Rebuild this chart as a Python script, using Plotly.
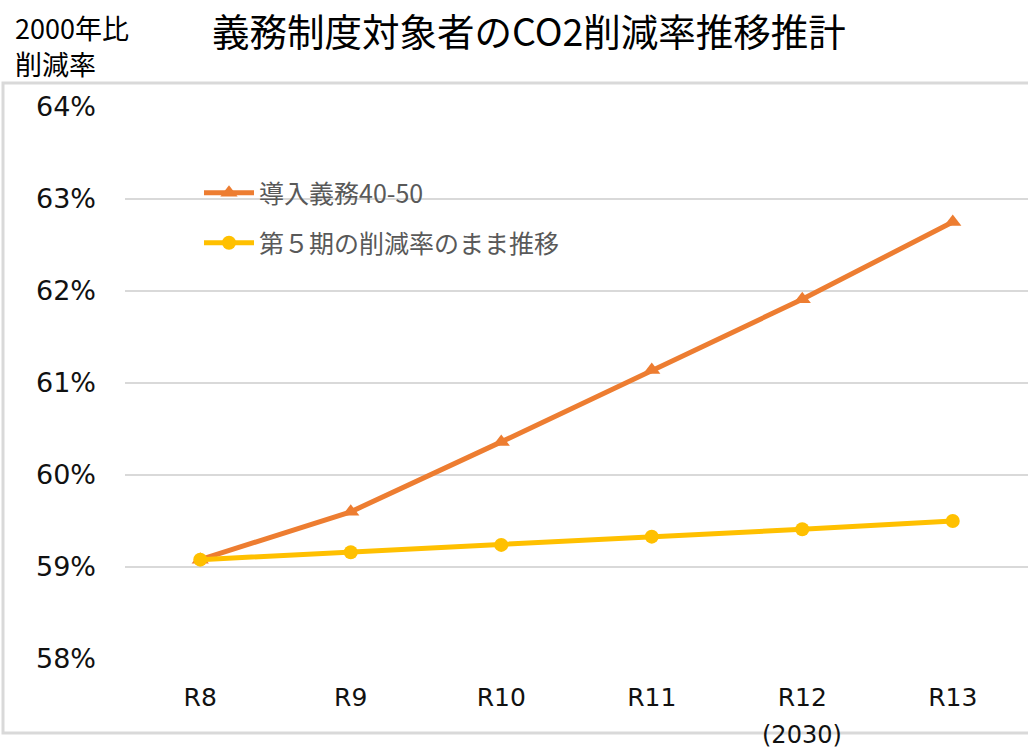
import plotly.graph_objects as go

# Fiscal-year categories (Reiwa years)
categories = ["R8", "R9", "R10", "R11", "R12", "R13"]
tick_labels = ["R8", "R9", "R10", "R11", "R12", "R13"]
year_note = "(2030)"
year_note_category = "R12"

# CO2 reduction rate vs. 2000 (%)
mandate_40_50 = [59.08, 59.60, 60.36, 61.14, 61.91, 62.75]
keep_phase5 = [59.08, 59.16, 59.24, 59.33, 59.41, 59.50]

series_names = ["導入義務40-50", "第５期の削減率のまま推移"]

W, H = 1028, 751
L, R, T, B = 125, 0, 107, 92
PW, PH = W - L - R, H - T - B


def px_x(x):
    return (x - L) / PW


def px_y(y):
    return (H - B - y) / PH


JP = "Noto Sans CJK JP, sans-serif"
NUM = "DejaVu Sans, Verdana, sans-serif"

fig = go.Figure()
fig.add_trace(go.Scatter(
    x=categories, y=mandate_40_50, name=series_names[0], mode="lines+markers",
    line=dict(color="#ED7D31", width=5),
    marker=dict(symbol="triangle-up", size=15, color="#ED7D31"),
    legend="legend",
))
fig.add_trace(go.Scatter(
    x=categories, y=keep_phase5, name=series_names[1], mode="lines+markers",
    line=dict(color="#FFC000", width=5),
    marker=dict(symbol="circle", size=14, color="#FFC000"),
    legend="legend2",
))

legend_style = dict(
    xanchor="left", yanchor="middle", bgcolor="rgba(0,0,0,0)",
    font=dict(family=JP, size=25, color="#595959"), itemwidth=50,
)

fig.update_layout(
    width=W, height=H,
    margin=dict(l=L, r=R, t=T, b=B),
    paper_bgcolor="white", plot_bgcolor="white",
    showlegend=True,
    legend=dict(x=px_x(199), y=px_y(193), **legend_style),
    legend2=dict(x=px_x(199), y=px_y(243), **legend_style),
    xaxis=dict(
        type="category", range=[-0.5, len(categories) - 0.5],
        tickmode="array", tickvals=categories, ticktext=tick_labels,
        showgrid=False, zeroline=False, showline=False, ticks="",
        tickfont=dict(family=NUM, size=25, color="#111111"),
        ticklabelstandoff=21,
    ),
    yaxis=dict(
        range=[58, 64], dtick=1, ticksuffix="%",
        showgrid=True, gridcolor="#D9D9D9", gridwidth=2,
        zeroline=False, showline=False, ticks="",
        tickfont=dict(family=NUM, size=27, color="#111111"),
        ticklabelstandoff=28,
    ),
    annotations=[
        dict(text="義務制度対象者のCO2削減率推移推計", xref="paper", yref="paper",
             x=px_x(210), y=px_y(29), xanchor="left", yanchor="middle",
             showarrow=False, font=dict(family=JP, size=37.5, color="#000000")),
        dict(text="2000年比", xref="paper", yref="paper",
             x=px_x(13), y=px_y(27), xanchor="left", yanchor="middle",
             showarrow=False, font=dict(family=JP, size=27, color="#000000")),
        dict(text="削減率", xref="paper", yref="paper",
             x=px_x(13), y=px_y(63), xanchor="left", yanchor="middle",
             showarrow=False, font=dict(family=JP, size=27, color="#000000")),
        dict(text=year_note, xref="x", yref="paper",
             x=year_note_category, y=px_y(735), xanchor="center", yanchor="middle",
             showarrow=False, font=dict(family=NUM, size=24, color="#111111")),
    ],
    shapes=[
        dict(type="rect", xref="paper", yref="paper",
             x0=px_x(3), x1=px_x(1040), y0=px_y(733), y1=px_y(83),
             line=dict(color="#D9D9D9", width=3), layer="below"),
    ],
)

fig.write_html("out.html")
